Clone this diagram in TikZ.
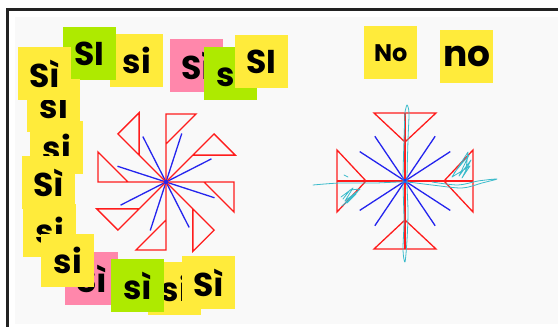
\documentclass[tikz,border=0pt]{standalone}
\usepackage{fontspec}
\setmainfont{Poppins}
\usetikzlibrary{calc}
\definecolor{noteyellow}{HTML}{FFEB3B}
\definecolor{notegreen}{HTML}{AEEA00}
\definecolor{notepink}{HTML}{FF87AB}
\definecolor{bggray}{HTML}{F9F9F9}
\definecolor{framec}{HTML}{222222}
\definecolor{redl}{HTML}{FF1C1C}
\definecolor{bluel}{HTML}{2424EE}
\definecolor{cyanl}{HTML}{3BBBCB}
\tikzset{
  note/.style={anchor=north west, minimum width=53pt, minimum height=53pt, inner sep=0pt, font=\bfseries\fontsize{33}{33}\selectfont, text=black},
  redline/.style={draw=redl, line width=1.3pt, line join=miter},
  blueline/.style={draw=bluel, line width=1.3pt},
  scribble/.style={draw=cyanl, line width=0.8pt, line join=round, line cap=round},
}
\begin{document}
\begin{tikzpicture}[x=1pt,y=-1pt]
\useasboundingbox (0,0) rectangle (558,327);
\fill[white] (0,0) rectangle (558,327);
\fill[bggray] (15,17) rectangle (558,324);
\draw[framec, line width=2.6pt] (7.3,327) -- (7.3,9.6) -- (558,9.6);

% ---- left pinwheel ----
\coordinate (c1) at (166,182);
\foreach \b in {27,72,117,162,207,252,297,342}{
  \draw[blueline] (c1) -- ($(c1)+(-\b:51)$);
}
\foreach \a in {0,45,...,315}{
  \draw[redline] (c1) -- ($(c1)+(-\a:68)$) -- ($(c1)+(-\a:68)+(90-\a:30)$) -- ($(c1)+(-\a:38)$);
}
\fill[bluel] (c1) circle (2.3);

% ---- right cross ----
\coordinate (c2) at (405,181);
\foreach \b in {33,56,124,147,213,236,304,327}{
  \draw[blueline] (c2) -- ($(c2)+(-\b:54)$);
}
\foreach \a in {0,90,180,270}{
  \draw[redline] (c2) -- ($(c2)+(-\a:68)$);
  \draw[redline] ($(c2)+(-\a:68)+(90-\a:31)$) -- ($(c2)+(-\a:68)+(-90-\a:31)$) -- ($(c2)+(-\a:39)$) -- cycle;
}
\fill[bluel] (c2) circle (2.3);

% cyan scribbles
\draw[scribble] plot[smooth] coordinates {(405,112) (407,105) (409,113) (408,140) (407,181) (408,212) (407,240) (405,262) (403,250) (404,220) (403,181) (404,140) (405,112)};
\draw[scribble] plot[smooth] coordinates {(313,185) (340,183) (375,183) (405,182) (432,185) (462,188) (482,183) (497,179) (478,181) (458,185) (432,182)};
\draw[scribble] (341,197) -- (353,188) -- (345,201) -- (359,190) -- (342,206) -- (356,194) -- (347,203) -- (360,189) -- (350,190) -- (343,199);
\draw[scribble] (344,175) -- (348,177);
\draw[scribble] (454,173) -- (469,155) -- (459,176) -- (471,160) -- (462,178) -- (470,166) -- (452,177) -- (468,152) -- (466,170);

% ---- sticky notes: top-left ----
\node[note, fill=noteyellow] (n1) at (110,34) {si};
\node[note, fill=notegreen] (n2) at (63,27) {SI};
\node[note, fill=noteyellow] (n3) at (27,79) {si};
\node[note, fill=noteyellow] (n4) at (18,47) {Sì};
\node[note, fill=noteyellow] (n5) at (30,121) {si};
\node[note, fill=noteyellow] (n6) at (23,204) {si};
\node[note, fill=noteyellow] (n7) at (22,156) {Sì};
\node[note, fill=notepink] (n8) at (65,252) {Sì};
\node[note, fill=noteyellow] (n9) at (41,234) {si};
\node[note, fill=noteyellow] (n10) at (148,262) {si};
\node[note, fill=notegreen] (n11) at (111,259) {sì};
\node[note, fill=noteyellow] (n12) at (182,256) {Sì};
% top-right of left group
\node[note, fill=notepink] (n13) at (170,39) {Sì};
\node[note, fill=notegreen] (n14) at (204,47) {si};
\node[note, fill=noteyellow] (n15) at (235,35) {SI};
% right group
\node[note, fill=noteyellow, font=\bfseries\fontsize{24}{24}\selectfont] (n16) at (364,26) {No};
\node[note, fill=noteyellow, font=\bfseries\fontsize{36}{36}\selectfont] (n17) at (440,30) {no};
\end{tikzpicture}
\end{document}
